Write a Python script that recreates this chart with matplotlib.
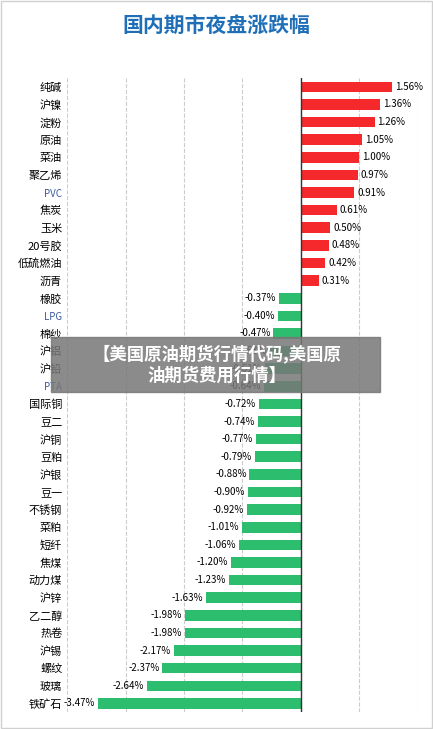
import matplotlib.pyplot as plt
import numpy as np

plt.rcParams['font.family'] = ['Noto Sans CJK SC', 'DejaVu Sans']

names = ['纯碱', '沪镍', '淀粉', '原油', '菜油', '聚乙烯', 'PVC', '焦炭', '玉米', '20号胶', '低硫燃油', '沥青',
         '橡胶', 'LPG', '棉纱', '沪铝', '沪铅', 'PTA', '国际铜', '豆二', '沪铜', '豆粕', '沪银', '豆一',
         '不锈钢', '菜粕', '短纤', '焦煤', '动力煤', '沪锌', '乙二醇', '热卷', '沪锡', '螺纹', '玻璃', '铁矿石']
values = [1.56, 1.36, 1.26, 1.05, 1.00, 0.97, 0.91, 0.61, 0.50, 0.48, 0.42, 0.31,
          -0.37, -0.40, -0.47, -0.53, -0.61, -0.64, -0.72, -0.74, -0.77, -0.79, -0.88, -0.90,
          -0.92, -1.01, -1.06, -1.20, -1.23, -1.63, -1.98, -1.98, -2.17, -2.37, -2.64, -3.47]

fig = plt.figure(figsize=(4.33, 7.29), dpi=100)
ax = fig.add_axes([0.155, 0.023, 0.81, 0.87])
y = np.arange(len(names))
colors = ['#f5282b' if v > 0 else '#2dbd6e' for v in values]
ax.barh(y, values, height=0.6, color=colors, zorder=3)
for yi, v in zip(y, values):
    ax.text(v + (0.05 if v > 0 else -0.05), yi, f'{v:.2f}%', va='center',
            ha='left' if v > 0 else 'right', fontsize=7, zorder=4)
ax.set_xlim(-4, 2)
ax.set_ylim(len(names) - 0.5, -0.5)
ax.set_xticks([-4, -3, -2, -1, 0, 1, 2])
ax.set_xticklabels([])
ax.tick_params(length=0)
ax.grid(axis='x', color='#cccccc', linestyle='--', linewidth=0.8, zorder=0)
ax.axvline(0, color='#333333', linewidth=1, zorder=5)
ax.set_yticks(y)
ax.set_yticklabels(names, fontsize=8)
for lbl in ax.get_yticklabels():
    if lbl.get_text() in ('PVC', 'LPG', 'PTA'):
        lbl.set_color('#3a5a9a')
        lbl.set_fontsize(7)
for s in ax.spines.values():
    s.set_visible(False)

fig.text(0.5, 0.965, '国内期市夜盘涨跌幅', ha='center', va='center', fontsize=15,
         color='#1f6fb8', fontweight='bold')
fig.add_artist(plt.Rectangle((0.002, 0.002), 0.996, 0.996, transform=fig.transFigure,
                             fill=False, edgecolor='#d0d0d0', linewidth=1))
# overlay banner
fig.add_artist(plt.Rectangle((0.118, 0.462), 0.76, 0.076, transform=fig.transFigure,
                             color='#777777', alpha=0.85, zorder=10))
fig.text(0.5, 0.5, '【美国原油期货行情代码,美国原\n油期货费用行情】', ha='center', va='center',
         fontsize=12.5, color='white', fontweight='bold', zorder=11, linespacing=1.2)
fig.savefig('out.png', dpi=100)
